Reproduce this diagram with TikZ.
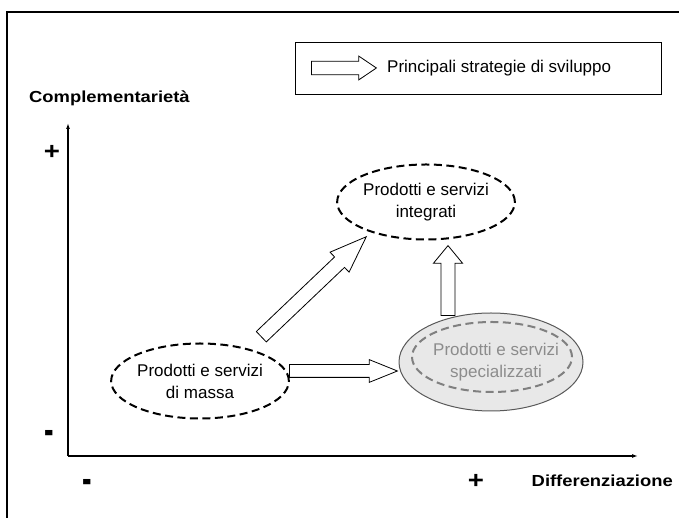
\documentclass[tikz,border=0pt]{standalone}
\usepackage{fontspec}
\setmainfont{Liberation Sans}
\newfontfamily\assefont[FakeStretch=1.15]{Liberation Sans Bold}
\newfontfamily\menofont[FakeStretch=0.65]{Liberation Sans Bold}
\usetikzlibrary{shapes.geometric,shapes.arrows,arrows.meta}

\begin{document}
\begin{tikzpicture}
	[x=1pt, y=1pt,
	polo/.style={
		ellipse,
		draw,
		line width=2pt,
		dash pattern=on 8pt off 4.5pt,
		inner sep=0pt,
		align=center,
		font=\fontsize{17}{22}\selectfont
	},
	freccia/.style={
		single arrow,
		draw,
		fill=white,
		line width=0.8pt,
		inner xsep=0pt,
		single arrow head indent=0pt
	},
	asse/.style={line width=1.2pt, -{Latex[length=6pt,width=4pt]}},
	etichetta/.style={font=\fontsize{16}{18}\assefont, inner sep=0pt},
	segno/.style={font=\fontsize{24}{26}\assefont, inner sep=0pt},
	meno/.style={font=\fontsize{44}{46}\menofont, inner sep=0pt, anchor=base}]
	\useasboundingbox (0,0) rectangle (679,518);
	% cornice
	\draw[line width=2pt] (7,-10) |- (700,506);
	% legenda
	\node[draw, line width=0.8pt, minimum width=366, minimum height=52] (legenda) at (478,450) {};
	\coordinate (lcoda) at (311,450);
	\coordinate (lpunta) at (376,450);
	\path (lcoda) -- (lpunta) node[freccia, pos=0, anchor=tail, sloped, minimum height=65, inner ysep=6.3, single arrow head extend=5.2, single arrow tip angle=68] (lfreccia) {};
	\node[anchor=west, inner sep=0pt, font=\fontsize{17}{22}\selectfont] (ltesto) at (387,450) {Principali strategie di sviluppo};
	% assi
	\coordinate (origine) at (68,62);
	\coordinate (ycima) at (68,395);
	\coordinate (xfine) at (638,62);
	\draw[asse] (origine) -- (ycima);
	\draw[asse] (origine) -- (xfine);
	\node[etichetta, anchor=west] (compl) at (29,420) {Complementarietà};
	\node[etichetta, anchor=east] (diff) at (673,37) {Differenziazione};
	\node[segno] (ypiu) at (52,366) {+};
	\node[segno] (xpiu) at (476,37) {+};
	\node[meno] (ymeno) at (49,73) {-};
	\node[meno] (xmeno) at (87,24) {-};
	% poli
	\node[polo, minimum width=158, minimum height=75] (massa) at (200,137) {Prodotti e servizi\\di massa};
	\node[polo, minimum width=156, minimum height=75] (integrati) at (426,316) {Prodotti e servizi\\integrati};
	\node[ellipse, draw=black!65, line width=1pt, fill=black!9, minimum width=184, minimum height=98] (spec) at (491,156) {};
	\node[polo, draw=black!50, minimum width=160, minimum height=70] (specin) at (492,161) {};
	\node[align=center, text=black!45, font=\fontsize{17}{22}\selectfont] (spectesto) at (496,156) {Prodotti e servizi\\specializzati};
	% strategie
	\coordinate (dcoda) at (261,181);
	\coordinate (dpunta) at (366,281);
	\path (dcoda) -- (dpunta) node[freccia, pos=0, anchor=tail, sloped, minimum height=145, inner ysep=6.8, single arrow head extend=6.6, single arrow tip angle=41] (fdiag) {};
	\coordinate (hcoda) at (289,147);
	\coordinate (hpunta) at (397,147);
	\path (hcoda) -- (hpunta) node[freccia, pos=0, anchor=tail, sloped, minimum height=108, inner ysep=6, single arrow head extend=5, single arrow tip angle=44] (forizz) {};
	\coordinate (vcoda) at (448,202);
	\coordinate (vpunta) at (448,272);
	\path (vcoda) -- (vpunta) node[freccia, pos=0, anchor=tail, sloped, minimum height=70, inner ysep=6.6, single arrow head extend=7.5, single arrow tip angle=79] (fvert) {};
\end{tikzpicture}
\end{document}
